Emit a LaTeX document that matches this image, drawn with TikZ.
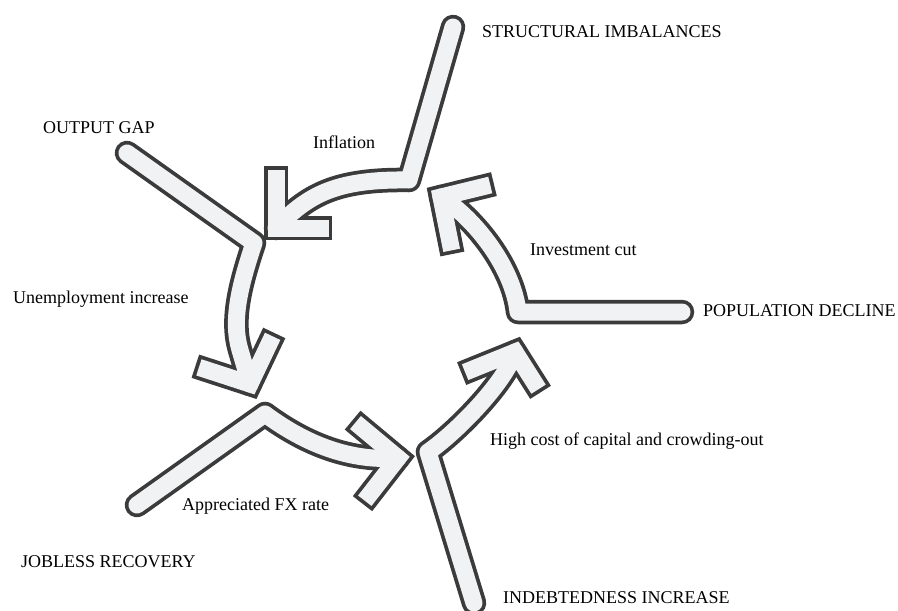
\documentclass[tikz,border=0pt]{standalone}
\usepackage{fontspec}
\setmainfont{Liberation Serif}
\usetikzlibrary{positioning}

\definecolor{rim}{HTML}{3B3B3B}
\definecolor{body}{HTML}{F1F2F4}

\tikzset{
  rimline/.style={draw=rim, line width=24.5pt},
  bodyline/.style={draw=body, line width=17pt},
  txt/.style={font=\rmfamily\fontsize{18}{20}\selectfont, inner sep=0pt, anchor=base west},
}

% shaft, then head (arm -- tip -- arm)
\newcommand{\fatarrow}[2]{%
  \draw[rimline, line cap=round, line join=round] #1;
  \draw[rimline, line cap=rect, line join=miter] #2;
  \draw[bodyline, line cap=round, line join=round] #1;
  \draw[bodyline, line cap=rect, line join=miter] #2;
}

\begin{document}
\begin{tikzpicture}[x=1pt, y=-1pt]
  \useasboundingbox (0,0) rectangle (898,611);

  \coordinate (si-tail) at (453,27);
  \coordinate (si-bend) at (409,180);
  \coordinate (si-tip)  at (276,228);
  \coordinate (og-tail) at (127,153);
  \coordinate (og-bend) at (254,243);
  \coordinate (og-tip)  at (250,384);
  \coordinate (jr-tail) at (137,505);
  \coordinate (jr-bend) at (265,414);
  \coordinate (jr-tip)  at (398,458);
  \coordinate (ii-tail) at (474,603);
  \coordinate (ii-bend) at (428,452);
  \coordinate (ii-tip)  at (515,352);
  \coordinate (pd-tail) at (682,312);
  \coordinate (pd-bend) at (518,312);
  \coordinate (pd-tip)  at (441,197);

  \fatarrow{(si-tail) -- (si-bend) .. controls (335,179) and (308,195) .. (si-tip)}
           {(276,178) -- (si-tip) -- (320,228)}
  \fatarrow{(og-tail) -- (og-bend) .. controls (240,285) and (231,320) .. (240,350) -- (og-tip)}
           {(207,370) -- (og-tip) -- (269,344)}
  \fatarrow{(jr-tail) -- (jr-bend) .. controls (300,440) and (345,462) .. (jr-tip)}
           {(362,428) -- (jr-tip) -- (370,494)}
  \fatarrow{(ii-tail) -- (ii-bend) .. controls (453,435) and (504,385) .. (ii-tip)}
           {(473,369) -- (ii-tip) -- (534,382)}
  \fatarrow{(pd-tail) -- (pd-bend) .. controls (513,267) and (475,219) .. (pd-tip)}
           {(482,187) -- (pd-tip) -- (450,242)}

  \node(si) at (482,37) [txt] {STRUCTURAL IMBALANCES};
  \node(og) at (43,133) [txt] {OUTPUT GAP};
  \node(pd) at (703,316) [txt] {POPULATION DECLINE};
  \node(jr) at (21,567) [txt] {JOBLESS RECOVERY};
  \node(ii) at (503,603) [txt] {INDEBTEDNESS INCREASE};

  \node(infl) at (313,148) [txt] {Inflation};
  \node(unemp) at (13,303) [txt] {Unemployment increase};
  \node(invest) at (530,255) [txt] {Investment cut};
  \node(fx) at (182,510) [txt] {Appreciated FX rate};
  \node(cost) at (490,445) [txt] {High cost of capital and crowding-out};
\end{tikzpicture}
\end{document}
